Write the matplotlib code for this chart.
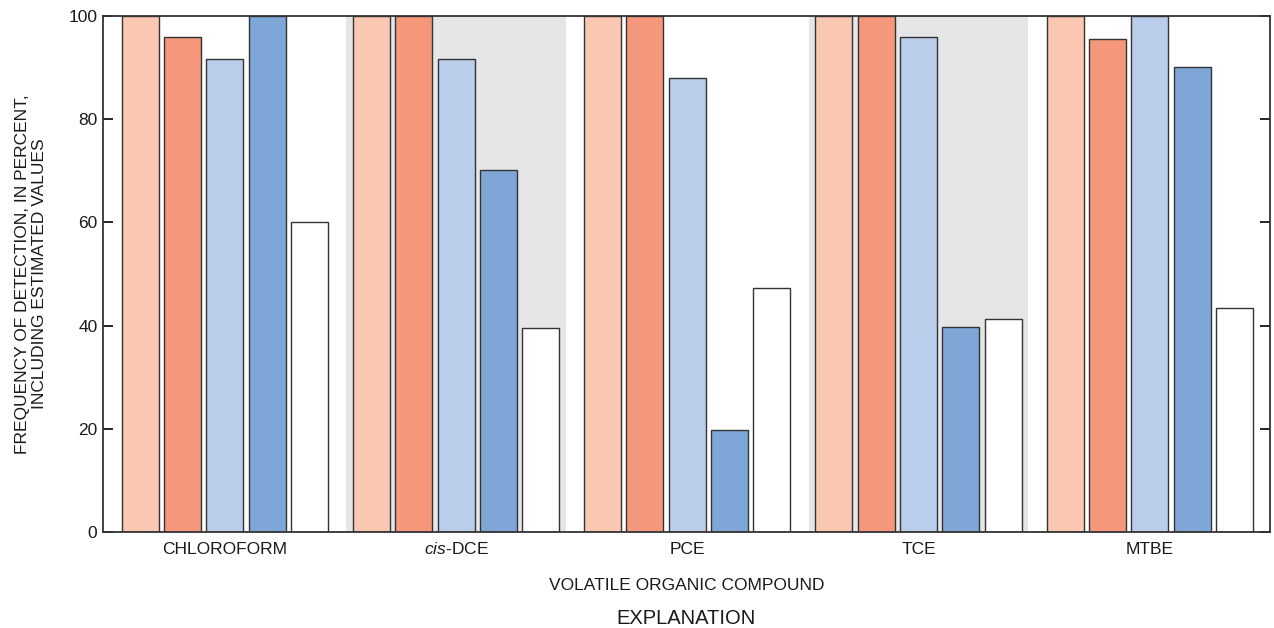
import matplotlib
matplotlib.use('Agg')
import matplotlib.pyplot as plt
import numpy as np

plt.rcParams['font.family'] = ['Liberation Sans', 'DejaVu Sans']
plt.rcParams['mathtext.fontset'] = 'custom'
plt.rcParams['mathtext.rm'] = 'Liberation Sans'
plt.rcParams['mathtext.it'] = 'Liberation Sans:italic'

compounds = ['CHLOROFORM', 'cis-DCE', 'PCE', 'TCE', 'MTBE']
# five series per compound
series1 = [100, 100, 100, 100, 100]
series2 = [96.0, 100, 100, 100, 95.6]
series3 = [91.7, 91.7, 88.0, 95.9, 100]
series4 = [100, 70.1, 19.7, 39.8, 90.1]
series5 = [60.0, 39.6, 47.2, 41.2, 43.4]
colors = ['#F9C7B2', '#F4977A', '#BACDEB', '#7EA7D8', '#FFFFFF']
shaded = [1, 3]

fig = plt.figure(figsize=(12.74, 6.28), dpi=100)
ax = fig.add_axes([0.0808, 0.1529, 0.9161, 0.8216])

x = np.arange(len(compounds))
for i in shaded:
    ax.axvspan(i - 0.474, i + 0.474, color='#E5E6E8', zorder=0, lw=0)

width = 0.16
step = 0.183
allseries = [series1, series2, series3, series4, series5]
for k, vals in enumerate(allseries):
    ax.bar(x + (k - 2) * step, vals, width, color=colors[k],
           edgecolor='#333333', linewidth=1.0, zorder=2)

ax.set_xlim(-0.527, 4.52)
ax.set_ylim(0, 100)
ax.set_yticks([0, 20, 40, 60, 80, 100])
ax.set_xticks(x)
labels = ['CHLOROFORM', '$\\it{cis}$-DCE', 'PCE', 'TCE', 'MTBE']
ax.set_xticklabels(labels, fontsize=12.5, color='#1a1a1a')
for t in ax.get_xticklabels():
    t.set_va('baseline')
ax.tick_params(axis='x', length=0, pad=16)
ax.tick_params(axis='y', direction='in', length=7, width=1.2,
               labelsize=12.5, labelcolor='#1a1a1a', right=True, pad=4)
for s in ax.spines.values():
    s.set_linewidth(1.3)
    s.set_color('#333333')

ax.set_ylabel('FREQUENCY OF DETECTION, IN PERCENT,\nINCLUDING ESTIMATED VALUES',
              fontsize=12.5, color='#1a1a1a', linespacing=1.2)
ax.yaxis.set_label_coords(-0.048, 0.5)
ax.set_xlabel('VOLATILE ORGANIC COMPOUND', fontsize=12.5, color='#1a1a1a')
ax.xaxis.set_label_coords(0.5, -0.09)

fig.text(0.5385, 1 - 619 / 628, 'EXPLANATION', ha='center', va='center',
         fontsize=14.5, color='#1a1a1a')

fig.savefig('out.png', dpi=100)
